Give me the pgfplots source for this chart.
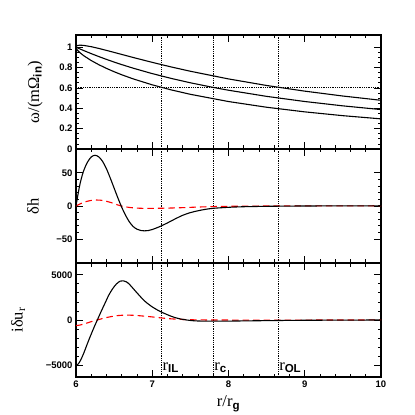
\documentclass[border=0pt]{standalone}
\usepackage{fontspec}
\setmainfont{Liberation Serif}
\setsansfont{Liberation Sans}
\usepackage{pgfplots}
\pgfplotsset{compat=1.18}
\tikzset{lab/.style={font=\fontsize{16.5}{16.5}\selectfont}}
\begin{document}
\begin{tikzpicture}
\useasboundingbox (-76pt,-38pt) rectangle (339pt,377pt);
\pgfplotsset{
 panel/.style={width=305pt,height=114pt,scale only axis,
   xmin=6,xmax=10,xtick={6,7,8,9,10},minor x tick num=4,
   tick align=inside,major tick length=7pt,minor tick length=3.5pt,
   axis line style={line width=1.1pt},
   every tick/.style={line width=0.8pt,black},
   tick label style={font=\fontsize{9.5}{10}\selectfont\sffamily\bfseries},
   /pgf/number format/assume math mode=true,
   scaled y ticks=false},
 vl/.style={densely dotted,line width=0.8pt,black},
 bk/.style={black,line width=1.1pt,smooth},
 rd/.style={red,line width=1.1pt,dash pattern=on 6.5pt off 4pt,smooth},
}
% ---------------- top panel ----------------
\begin{axis}[panel,at={(0pt,228pt)},
  ymin=0,ymax=1.12,ytick={0,0.2,0.4,0.6,0.8,1},yticklabels={0,0.2,0.4,0.6,0.8,1},
  minor y tick num=3,xticklabels={},
  ylabel={ω/(mΩ\textsubscript{\sffamily\bfseries in})},
  ylabel style={lab,at={(axis description cs:-0.134,0.5)},anchor=center}]
\addplot[vl] coordinates {(6,0.605) (10,0.605)};
\addplot[vl] coordinates {(7.12,0) (7.12,1.12)};
\addplot[vl] coordinates {(7.8,0) (7.8,1.12)};
\addplot[vl] coordinates {(8.65,0) (8.65,1.12)};
\addplot[black,line width=1.1pt] coordinates {
(6,1) (6.01,1.01327) (6.02,1.01673) (6.05,1.02000) (6.1,1.01795) (6.2,1.00504)
(6.3,0.98775) (6.4,0.96869) (6.5,0.94891) (6.6,0.92892) (6.75,0.89910) (7,0.85107)
(7.25,0.80586) (7.5,0.76374) (8,0.68846) (8.5,0.62391) (9,0.56839) (9.5,0.52036) (10,0.47859)};
\addplot[black,line width=1.1pt] coordinates {
(6,1) (6.01,0.99668) (6.02,0.99337) (6.05,0.98357) (6.1,0.96758) (6.2,0.93689)
(6.3,0.90782) (6.4,0.88023) (6.5,0.85402) (6.6,0.82910) (6.75,0.79394) (7,0.74066)
(7.25,0.69312) (7.5,0.65050) (7.8,0.60487) (8,0.57735) (8.5,0.51703) (9,0.46657) (9.5,0.42385) (10,0.38730)};
\addplot[black,line width=1.1pt] coordinates {
(6,1) (6.01,0.98009) (6.02,0.97002) (6.05,0.94714) (6.1,0.91721) (6.2,0.86874)
(6.3,0.82789) (6.4,0.79177) (6.5,0.75913) (6.6,0.72929) (6.75,0.68878) (7,0.63025)
(7.25,0.58038) (7.5,0.53726) (8,0.46624) (8.5,0.41015) (9,0.36475) (9.5,0.32734) (10,0.29601)};
\end{axis}
% ---------------- middle panel ----------------
\begin{axis}[panel,at={(0pt,114pt)},
  ymin=-86,ymax=86,ytick={-50,0,50},yticklabels={−50,0,50},
  minor y tick num=4,xticklabels={},
  ylabel={δh},
  ylabel style={lab,at={(axis description cs:-0.141,0.5)},anchor=center}]
\addplot[vl] coordinates {(7.12,-86) (7.12,86)};
\addplot[vl] coordinates {(7.8,-86) (7.8,86)};
\addplot[vl] coordinates {(8.65,-86) (8.65,86)};
\addplot[rd] coordinates {
(6.00,0) (6.05,3) (6.10,5.5) (6.15,7.2) (6.20,8.4) (6.27,9) (6.35,8.4) (6.45,5.5)
(6.55,1.5) (6.60,-0.2) (6.70,-2.2) (6.80,-3.2) (6.90,-3.6) (7.00,-3.6) (7.20,-3.2)
(7.40,-2.5) (7.60,-1.6) (7.80,-0.9) (8.00,-0.5) (8.50,0) (9.00,0.2) (10.00,0.3)};
\addplot[bk] coordinates {
(6.00,0) (6.03,20) (6.06,37) (6.10,53) (6.15,66) (6.20,74) (6.25,76.5) (6.30,74)
(6.35,67) (6.40,56) (6.45,42) (6.50,27) (6.55,12) (6.60,-2) (6.65,-14) (6.70,-24)
(6.75,-31) (6.80,-35) (6.85,-37) (6.90,-37.5) (6.95,-37) (7.00,-35.5) (7.10,-31)
(7.20,-25.5) (7.30,-19.5) (7.40,-14) (7.50,-10) (7.60,-7.2) (7.70,-5) (7.80,-3.5)
(8.00,-2) (8.20,-1.1) (8.50,-0.5) (9.00,0) (10.00,0.3)};
\end{axis}
% ---------------- bottom panel ----------------
\begin{axis}[panel,at={(0pt,0pt)},
  ymin=-6300,ymax=6300,ytick={-5000,0,5000},yticklabels={−5000,0,5000},
  minor y tick num=4,
  ylabel={iδu\textsubscript{r}},
  ylabel style={lab,at={(axis description cs:-0.19,0.5)},anchor=center},
  xlabel={r/r\textsubscript{\sffamily\bfseries g}},
  xlabel style={lab,at={(axis description cs:0.5,0)},yshift=-27pt,anchor=center}]
\addplot[vl] coordinates {(7.12,-6300) (7.12,6300)};
\addplot[vl] coordinates {(7.8,-6300) (7.8,6300)};
\addplot[vl] coordinates {(8.65,-6300) (8.65,6300)};
\addplot[rd] coordinates {
(6.00,-620) (6.05,-560) (6.10,-450) (6.15,-320) (6.20,-180) (6.28,0) (6.35,170)
(6.45,360) (6.55,490) (6.65,540) (6.75,520) (6.85,460) (7.00,340) (7.15,200)
(7.30,100) (7.50,30) (7.80,0) (8.50,-10) (9.50,0) (10.00,10)};
\addplot[bk] coordinates {
(6.00,-5050) (6.03,-4850) (6.06,-4450) (6.10,-3700) (6.15,-2600) (6.20,-1550)
(6.25,-550) (6.28,0) (6.33,950) (6.38,1850) (6.43,2750) (6.48,3450) (6.53,3980)
(6.58,4300) (6.62,4330) (6.66,4220) (6.70,3950) (6.80,3000) (6.90,2100) (7.00,1450)
(7.10,960) (7.20,580) (7.30,260) (7.40,70) (7.50,-50) (7.60,-110) (7.80,-130)
(8.00,-120) (8.50,-70) (9.00,-30) (10.00,0)};
\node[anchor=base west,inner sep=1pt,lab] at (axis cs:7.12,-5550) {r\textsubscript{\sffamily\bfseries IL}};
\node[anchor=base west,inner sep=1pt,lab] at (axis cs:7.8,-5550) {r\textsubscript{\sffamily\bfseries c}};
\node[anchor=base west,inner sep=1pt,lab] at (axis cs:8.65,-5550) {r\textsubscript{\sffamily\bfseries OL}};
\end{axis}
\end{tikzpicture}
\end{document}
